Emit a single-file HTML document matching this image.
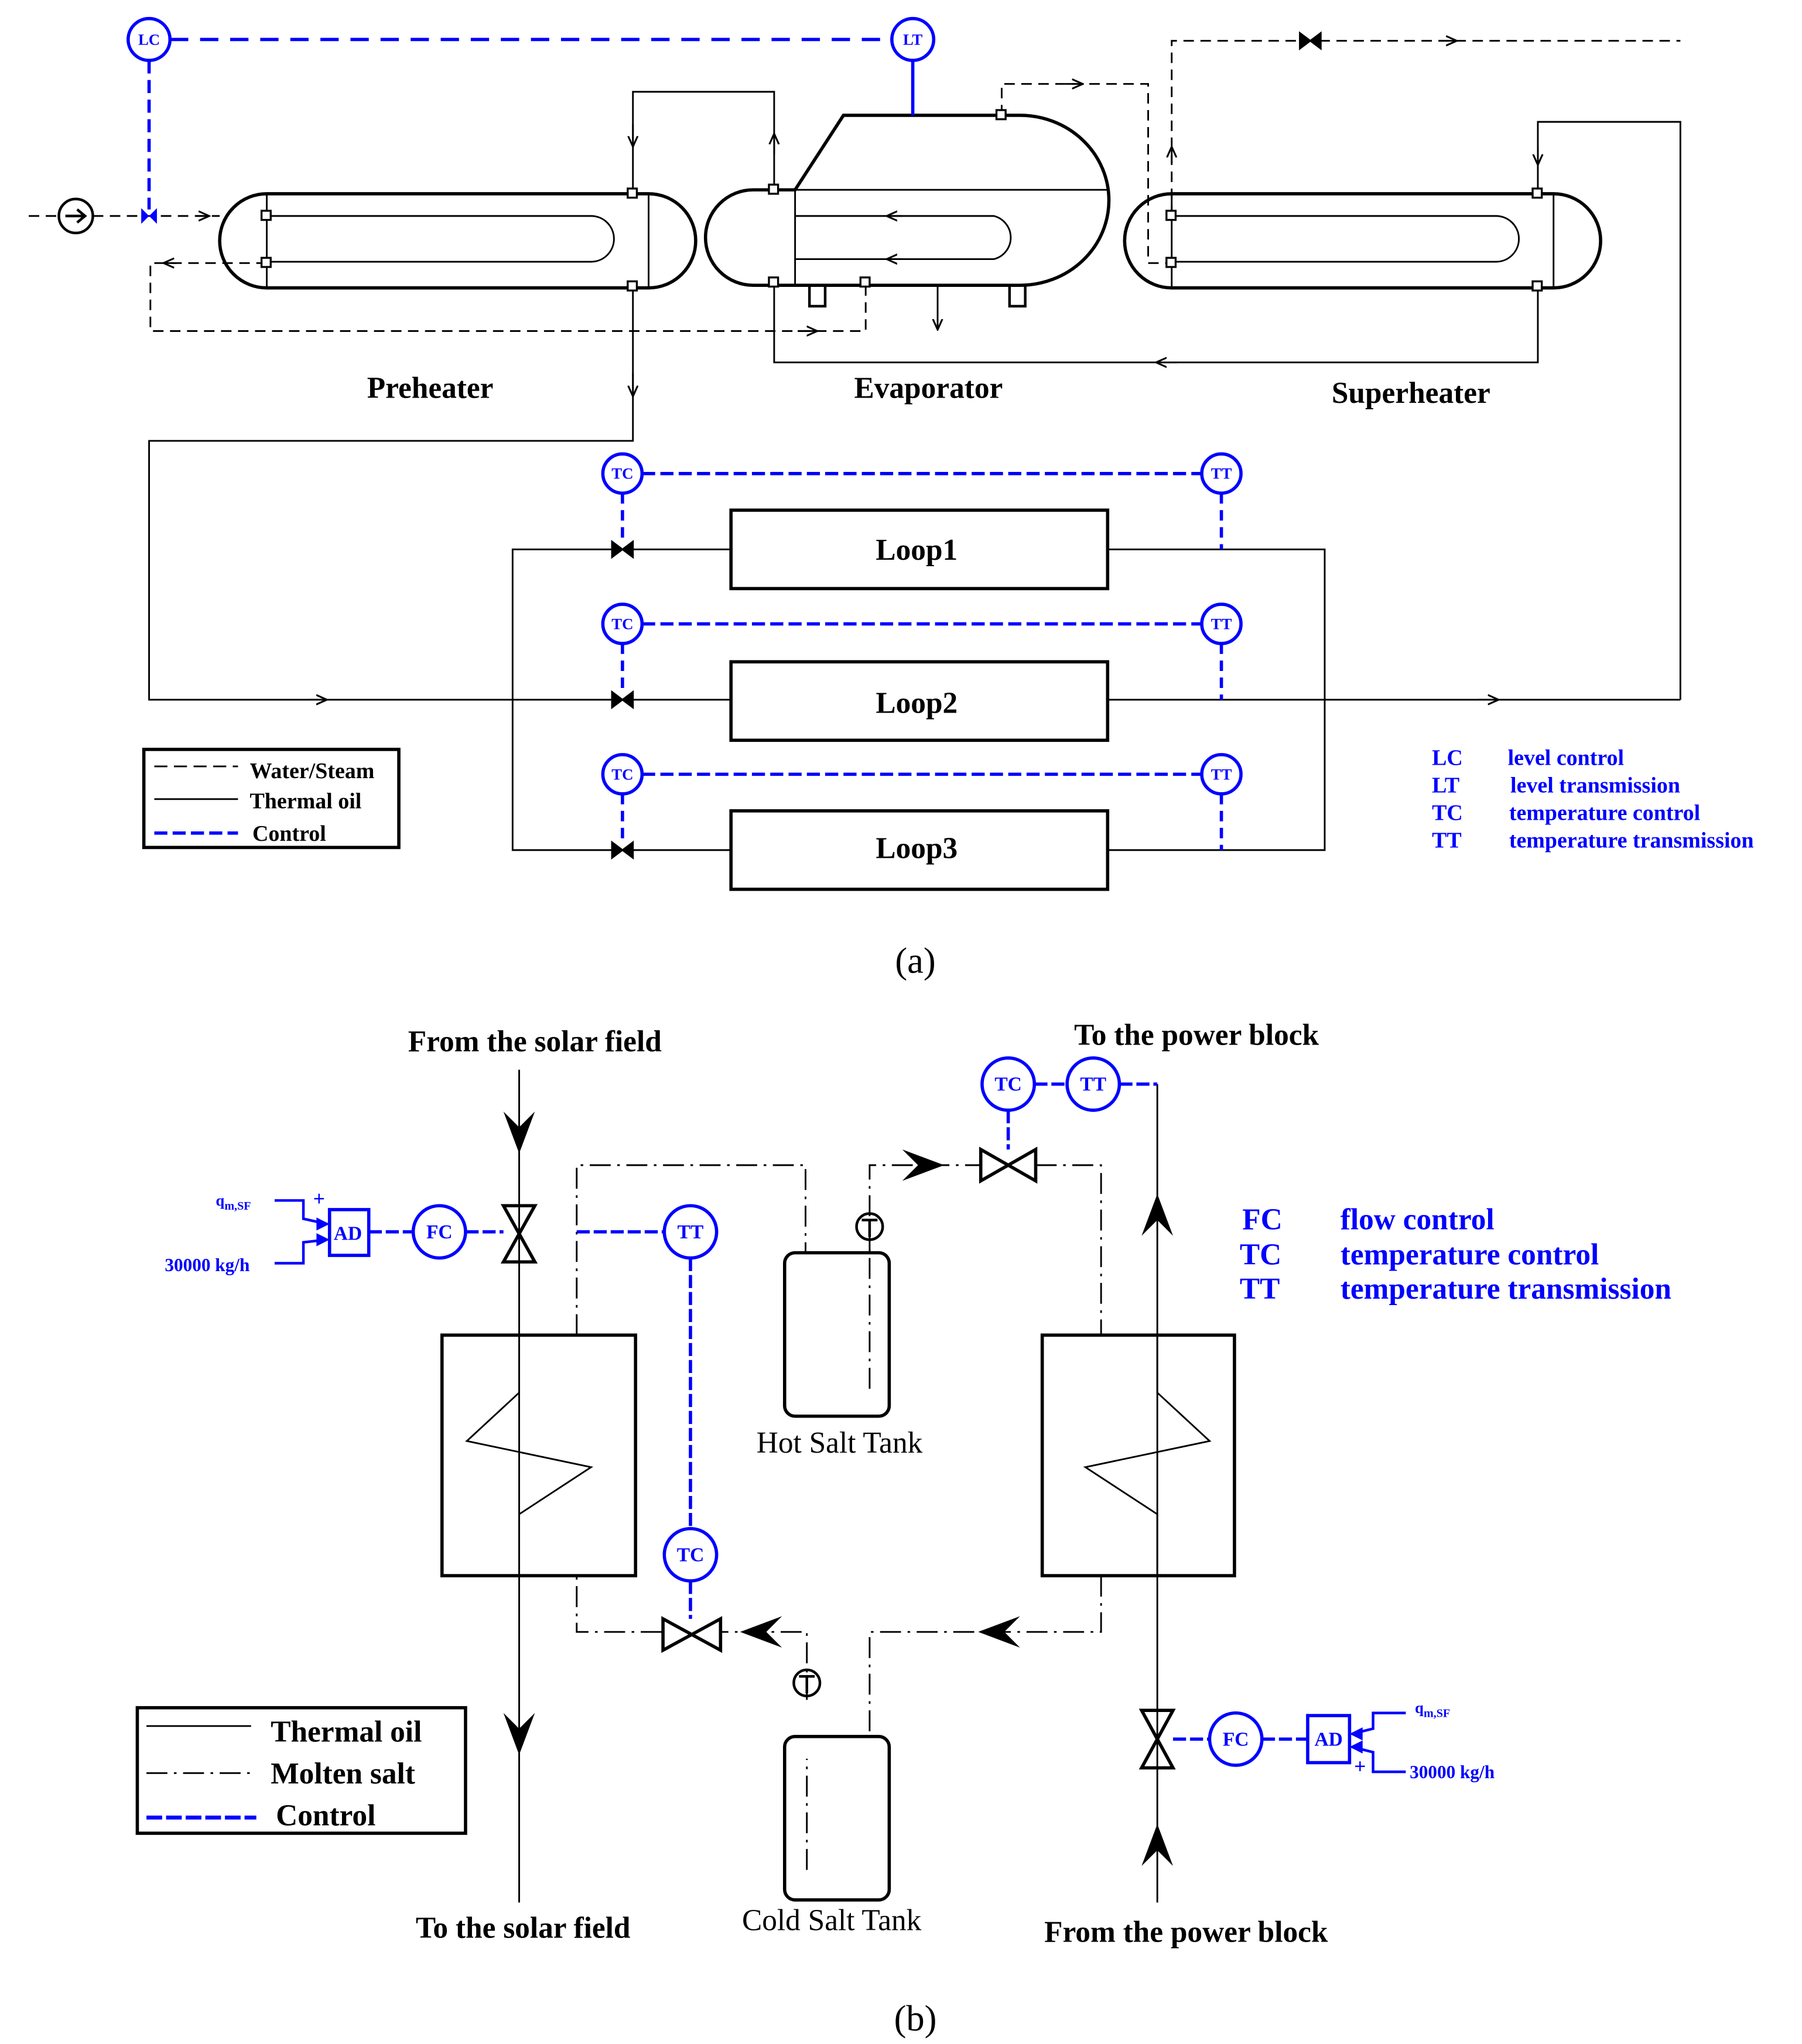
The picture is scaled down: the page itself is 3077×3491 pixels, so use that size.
<!DOCTYPE html>
<html><head><meta charset="utf-8"><style>
html,body{margin:0;padding:0;background:#fff}
svg{display:block}
text{font-family:"Liberation Serif",serif}
.b{font-weight:bold}
</style></head><body>
<svg width="3077" height="3491" viewBox="0 0 1378 1563" xmlns="http://www.w3.org/2000/svg">
<defs>
<marker id="ar" viewBox="0 0 10 10" refX="9" refY="5" markerWidth="7" markerHeight="7" orient="auto"><path d="M0,1 L9,5 L0,9" fill="none" stroke="#000" stroke-width="1.5"/></marker>
</defs>
<g fill="none" stroke="#000" stroke-width="1.3">
<!-- ===== (a) ===== -->
<!-- pump -->
<circle cx="58" cy="165" r="13" stroke-width="2"/>
<path d="M50,165 L64,165 M59,160 L65,165 L59,170" stroke-width="2"/>
<path d="M22,165 L45,165 M71,165 L168,165" stroke-dasharray="8,5"/>
<path d="M150,165 L160,165" marker-end="url(#ar)"/>
<!-- preheater -->
<path d="M204,148 L496,148 A36,36 0 0 1 496,220 L204,220 A36,36 0 0 1 204,148 Z" stroke-width="2.5"/>
<path d="M204,148 L204,220 M496,148 L496,220"/>
<path d="M204,165 L452,165 A17.5,17.5 0 0 1 452,200 L204,200"/>
<!-- preheater water dashed return -->
<path d="M204,201 L115,201 L115,253 L662,253 L662,216" stroke-dasharray="8,5"/>
<path d="M135,201 L125,201" marker-end="url(#ar)"/>
<path d="M610,253 L625,253" marker-end="url(#ar)"/>
<!-- thermal oil -->
<path d="M484,148 L484,70 L592,70 L592,145"/>
<path d="M484,95 L484,112" marker-end="url(#ar)"/>
<path d="M592,118 L592,102" marker-end="url(#ar)"/>
<path d="M484,220 L484,337 L114,337 L114,535 L559,535"/>
<path d="M484,285 L484,303" marker-end="url(#ar)"/>
<path d="M235,535 L250,535" marker-end="url(#ar)"/>
<!-- evaporator -->
<path d="M592,145 L608,145 L645,88 L780,88 A68,65 0 0 1 780,218 L576,218 A36,36 0 0 1 576,145 Z" stroke-width="2.5"/>
<path d="M608,145 L848,145 M608,145 L608,218"/>
<path d="M608,165 L760,165 A17,17 0 0 1 760,198 L608,198"/>
<path d="M690,165 L678,165" marker-end="url(#ar)"/>
<path d="M690,198 L678,198" marker-end="url(#ar)"/>
<rect x="619" y="218" width="12" height="16" stroke-width="2"/>
<rect x="772" y="218" width="12" height="16" stroke-width="2"/>
<path d="M717,218 L717,252" marker-end="url(#ar)"/>
<path d="M766,88 L766,64 L878,64 L878,201 L896,201" stroke-dasharray="8,5"/>
<path d="M815,64 L828,64" marker-end="url(#ar)"/>
<path d="M896,165 L896,31 L1285,31" stroke-dasharray="8,5"/>
<path d="M896,125 L896,112" marker-end="url(#ar)"/>
<path d="M1100,31 L1114,31" marker-end="url(#ar)"/>
<path d="M994,25 L1010,37 L1010,25 L994,37 Z" fill="#000"/>
<!-- superheater -->
<path d="M896,148 L1188,148 A36,36 0 0 1 1188,220 L896,220 A36,36 0 0 1 896,148 Z" stroke-width="2.5"/>
<path d="M896,148 L896,220 M1188,148 L1188,220"/>
<path d="M896,165 L1144,165 A17.5,17.5 0 0 1 1144,200 L896,200"/>
<path d="M1285,535 L1285,93 L1176,93 L1176,148"/>
<path d="M1176,112 L1176,126" marker-end="url(#ar)"/>
<path d="M1176,220 L1176,277 L592,277 L592,216"/>
<path d="M900,277 L884,277" marker-end="url(#ar)"/>
<!-- squares -->
<g fill="#fff" stroke-width="1.5">
<rect x="200" y="161" width="7" height="7"/><rect x="200" y="197" width="7" height="7"/>
<rect x="480" y="144" width="7" height="7"/><rect x="480" y="215" width="7" height="7"/>
<rect x="588" y="141" width="7" height="7"/><rect x="588" y="212" width="7" height="7"/>
<rect x="658" y="212" width="7" height="7"/><rect x="762" y="84" width="7" height="7"/>
<rect x="892" y="161" width="7" height="7"/><rect x="892" y="197" width="7" height="7"/>
<rect x="1172" y="144" width="7" height="7"/><rect x="1172" y="215" width="7" height="7"/>
</g>
<!-- loops -->
<rect x="559" y="390" width="288" height="60" stroke-width="2.5"/>
<rect x="559" y="506" width="288" height="60" stroke-width="2.5"/>
<rect x="559" y="620" width="288" height="60" stroke-width="2.5"/>
<path d="M559,420 L392,420 L392,650 L559,650 M847,420 L1013,420 L1013,650 L847,650 M847,535 L1285,535"/>
<path d="M1130,535 L1146,535" marker-end="url(#ar)"/>
<g fill="#000"><path d="M468,414 L484,426 L484,414 L468,426 Z"/><path d="M468,529 L484,541 L484,529 L468,541 Z"/><path d="M468,644 L484,656 L484,644 L468,656 Z"/></g>
<!-- legend a -->
<rect x="110" y="573" width="195" height="75" stroke-width="2.5"/>
<path d="M118,586 L182,586" stroke-dasharray="10,5"/>
<path d="M118,611 L182,611"/>
<path d="M118,637 L182,637" stroke="#00f" stroke-width="2.5" stroke-dasharray="10,4"/>
<!-- ===== (b) ===== -->
<path d="M397,818 L397,1455 M885,829 L885,1455"/>
<rect x="338" y="1021" width="148" height="184" stroke-width="2.5"/>
<rect x="797" y="1021" width="147" height="184" stroke-width="2.5"/>
<path d="M397,1021 L397,1065 L357,1102 L452,1122 L397,1158 L397,1205"/>
<path d="M885,1021 L885,1065 L925,1102 L830,1122 L885,1158 L885,1205"/>
<g stroke-dasharray="16,5,2,5">
<path d="M441,1021 L441,891 L616,891 L616,958"/>
<path d="M665,958 L665,891 L750,891 M792,891 L842,891 L842,1021"/>
<path d="M665,1062 L665,951"/>
<path d="M842,1205 L842,1248 L665,1248 L665,1328"/>
<path d="M617,1300 L617,1248 L552,1248 M506,1248 L441,1248 L441,1205"/>
<path d="M617,1430 L617,1345"/>
</g>
<rect x="600" y="958" width="80" height="125" rx="8" stroke-width="2.5"/>
<rect x="600" y="1328" width="80" height="125" rx="8" stroke-width="2.5"/>
<circle cx="665" cy="938" r="10" stroke-width="2"/><path d="M659,933 L671,933 M665,933 L665,946" stroke-width="2"/>
<circle cx="617" cy="1287" r="10" stroke-width="2"/><path d="M611,1282 L623,1282 M617,1282 L617,1295" stroke-width="2"/>
<!-- valves b -->
<path d="M385,922 L409,922 L385,965 L409,965 Z" stroke-width="2.5"/>
<path d="M873,1308 L897,1308 L873,1352 L897,1352 Z" stroke-width="2.5"/>
<path d="M750,879 L792,903 L792,879 L750,903 Z" stroke-width="2.5"/>
<path d="M507,1238 L551,1262 L551,1238 L507,1262 Z" stroke-width="2.5"/>
<!-- big arrows -->
<g fill="#000" stroke="none">
<path d="M385,850 L397,882 L409,850 L397,862 Z"/>
<path d="M385,1310 L397,1342 L409,1310 L397,1322 Z"/>
<path d="M873,945 L885,913 L897,945 L885,933 Z"/>
<path d="M873,1427 L885,1395 L897,1427 L885,1415 Z"/>
<path d="M690,879 L722,891 L690,903 L702,891 Z"/>
<path d="M598,1236 L566,1248 L598,1260 L586,1248 Z"/>
<path d="M780,1236 L748,1248 L780,1260 L768,1248 Z"/>
</g>
<!-- legend b -->
<rect x="105" y="1306" width="251" height="96" stroke-width="2.5"/>
<path d="M112,1320 L192,1320"/>
<path d="M112,1356 L192,1356" stroke-dasharray="16,5,2,5"/>
<path d="M112,1390 L196,1390" stroke="#00f" stroke-width="3" stroke-dasharray="12,3"/>
</g>

<!-- blue control -->
<g fill="none" stroke="#00f" stroke-width="2.5">
<circle cx="114" cy="30" r="16"/><circle cx="698" cy="30" r="16"/>
<path d="M130,30 L682,30" stroke-dasharray="14,9"/>
<path d="M114,46 L114,160" stroke-dasharray="10,5"/>
<path d="M698,46 L698,88"/>
<circle cx="476" cy="362" r="15"/><circle cx="934" cy="362" r="15"/>
<circle cx="476" cy="477" r="15"/><circle cx="934" cy="477" r="15"/>
<circle cx="476" cy="592" r="15"/><circle cx="934" cy="592" r="15"/>
<path d="M491,362 L919,362 M491,477 L919,477 M491,592 L919,592" stroke-dasharray="10,4"/>
<path d="M476,377 L476,414 M476,492 L476,529 M476,607 L476,644 M934,377 L934,420 M934,492 L934,535 M934,607 L934,650" stroke-dasharray="8,5"/>
<!-- b -->
<circle cx="336" cy="942" r="20"/><circle cx="528" cy="942" r="20"/><circle cx="528" cy="1189" r="20"/>
<circle cx="771" cy="829" r="20"/><circle cx="836" cy="829" r="20"/><circle cx="945" cy="1330" r="20"/>
<rect x="252" y="925" width="30" height="35"/><rect x="1000" y="1312" width="32" height="36"/>
<path d="M282,942 L316,942 M356,942 L385,942 M441,942 L508,942" stroke-dasharray="10,3"/>
<path d="M528,962 L528,1169 M528,1209 L528,1238" stroke-dasharray="10,3"/>
<path d="M771,849 L771,879 M791,829 L816,829 M856,829 L885,829" stroke-dasharray="10,3"/>
<path d="M897,1330 L925,1330 M965,1330 L1000,1330" stroke-dasharray="10,3"/>
<path d="M210,918 L232,918 L232,932 L250,936 M210,966 L232,966 L232,950 L250,948" stroke-width="2"/>
<path d="M1075,1310 L1050,1310 L1050,1322 L1034,1326 M1075,1355 L1050,1355 L1050,1340 L1034,1336" stroke-width="2"/>
</g>
<g fill="#00f" stroke="none">
<path d="M252,936 L242,931 L242,941 Z"/><path d="M252,948 L242,943 L242,953 Z"/>
<path d="M1032,1326 L1042,1321 L1042,1331 Z"/><path d="M1032,1336 L1042,1331 L1042,1341 Z"/>
<path d="M108,159 L120,171 L120,159 L108,171 Z"/>
</g>
<g fill="#00f" class="b" font-size="12" text-anchor="middle">
<text x="114" y="34">LC</text><text x="698" y="34">LT</text>
<text x="476" y="366">TC</text><text x="934" y="366">TT</text>
<text x="476" y="481">TC</text><text x="934" y="481">TT</text>
<text x="476" y="596">TC</text><text x="934" y="596">TT</text>
<g font-size="15"><text x="336" y="947">FC</text><text x="528" y="947">TT</text><text x="528" y="1194">TC</text><text x="771" y="834">TC</text><text x="836" y="834">TT</text><text x="945" y="1335">FC</text><text x="266" y="948">AD</text><text x="1016" y="1335">AD</text></g>
<text x="244" y="922" font-size="16">+</text><text x="1040" y="1356" font-size="16">+</text>
</g>
<g fill="#00f" class="b" font-size="17">
<text x="1095" y="585">LC</text><text x="1153" y="585">level control</text>
<text x="1095" y="606">LT</text><text x="1155" y="606">level  transmission</text>
<text x="1095" y="627">TC</text><text x="1154" y="627">temperature control</text>
<text x="1095" y="648">TT</text><text x="1154" y="648">temperature  transmission</text>
<g font-size="23"><text x="950" y="940">FC</text><text x="1025" y="940">flow control</text>
<text x="948" y="967">TC</text><text x="1025" y="967">temperature control</text>
<text x="948" y="993">TT</text><text x="1025" y="993">temperature  transmission</text></g>
<text x="165" y="922" font-size="12">q<tspan font-size="9" dy="3">m,SF</tspan></text>
<text x="126" y="972" font-size="14">30000 kg/h</text>
<text x="1082" y="1310" font-size="12">q<tspan font-size="9" dy="3">m,SF</tspan></text>
<text x="1078" y="1360" font-size="14">30000 kg/h</text>
</g>
<g fill="#000" class="b">
<g font-size="23" text-anchor="middle"><text x="329" y="304">Preheater</text><text x="710" y="304">Evaporator</text><text x="1079" y="308">Superheater</text>
<text x="701" y="428">Loop1</text><text x="701" y="545">Loop2</text><text x="701" y="656">Loop3</text>
<text x="409" y="804">From the solar field</text><text x="915" y="799">To the power block</text>
<text x="400" y="1482">To the solar field</text><text x="907" y="1485">From the power block</text></g>
<g font-size="17"><text x="191" y="595">Water/Steam</text><text x="191" y="618">Thermal oil</text><text x="193" y="643">Control</text></g>
<g font-size="23"><text x="207" y="1332">Thermal oil</text><text x="207" y="1364">Molten salt</text><text x="211" y="1396">Control</text></g>
</g>
<g fill="#000" font-size="23" text-anchor="middle">
<text x="642" y="1111">Hot Salt Tank</text><text x="636" y="1476">Cold Salt Tank</text>
<text x="700" y="744" font-size="28">(a)</text><text x="700" y="1553" font-size="28">(b)</text>
</g>
</svg>
</body></html>
